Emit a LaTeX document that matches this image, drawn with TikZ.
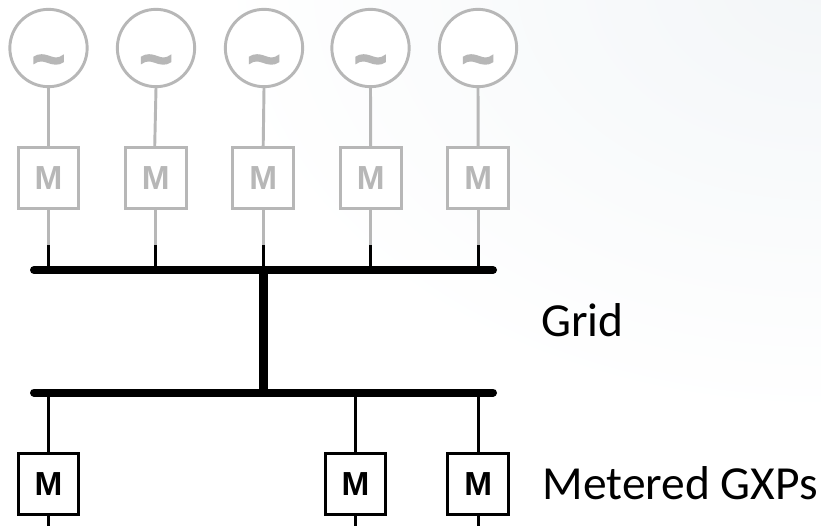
\documentclass[tikz,border=0pt]{standalone}
\usepackage{fontspec}
\setmainfont{Carlito}
\newfontfamily\armb{Liberation Sans}[BoldFont={Liberation Sans Bold}]
\newfontfamily\tildefont{Liberation Sans Bold}[FakeBold=2.5]
\usetikzlibrary{calc}
\definecolor{gline}{HTML}{B7B7B7}
\definecolor{paleback}{HTML}{F3F6F8}
\tikzset{
  x=0.75pt,y=-0.75pt,
  gen/.style={circle,draw=gline,line width=2.2pt,minimum size=58pt,inner sep=0pt,fill=white},
  gmeter/.style={rectangle,draw=gline,line width=2.2pt,minimum size=45.5pt,inner sep=0pt,fill=white,text=gline,font=\armb\bfseries\fontsize{25}{25}\selectfont},
  kmeter/.style={gmeter,draw=black,text=black},
  glead/.style={draw=gline,line width=2.2pt},
  klead/.style={draw=black,line width=2.2pt},
  busbar/.style={draw=black,line width=6pt,line cap=round},
  riser/.style={draw=black,line width=7pt},
  tildemark/.style={text=gline,font=\tildefont\fontsize{43}{43}\selectfont,inner sep=0pt},
  lab/.style={anchor=base west,inner sep=0pt,font=\fontsize{35.6}{40}\selectfont,text=black}
}
\begin{document}
\begin{tikzpicture}
\useasboundingbox (0,0) rectangle (821,526);
\begin{scope}
\clip (0,0) rectangle (821,526);
\shade[inner color=paleback,outer color=white] (821,-20) ellipse [x radius=610,y radius=440];
\end{scope}
% buses
\coordinate (b1l) at (34,270); \coordinate (b1r) at (493,270);
\coordinate (b2l) at (34,392.5); \coordinate (b2r) at (493,392.5);
% top row
\foreach \n/\xg/\xm in {1/48.5/48.5,2/156/155.7,3/264/263.2,4/370.5/370.7,5/478/478.2}{
  \node[gen,label={[tildemark,yshift=-14pt]center:\textasciitilde}] (g\n) at (\xg,48) {};
  \node[gmeter] (m\n) at (\xm,178) {M};
  \coordinate (j\n) at (\xm,245);
  \draw[glead] (m\n.south) -- (j\n);
  \draw[klead] (j\n) -- (j\n |- b1l);
}
\draw[glead] (g1.south) -- (m1.north);
\coordinate (m2t) at (154.7,147);
\draw[glead] (g2.south) -- (m2t);
\draw[glead] (g3.south) -- (m3.north);
\draw[glead] (g4.south) -- (m4.north);
\draw[glead] (g5.south) -- (m5.north);
% bottom row
\foreach \n/\xm in {6/48.5,7/355.5,8/478.2}{
  \node[kmeter] (m\n) at (\xm,484) {M};
  \coordinate (e\n) at (\xm,526);
  \draw[klead] (m\n.north) -- (m\n.north |- b2l);
  \draw[klead] (m\n.south) -- (e\n);
}
\coordinate (r1) at (263.2,270); \coordinate (r2) at (263.2,392.5);
\draw[riser] (r1) -- (r2);
\draw[busbar] (b1l) -- (b1r);
\draw[busbar] (b2l) -- (b2r);
\node[lab] (grid) at (541,336) {Grid};
\node[lab] (gxp) at (542.5,499) {Metered GXPs};
\end{tikzpicture}
\end{document}
